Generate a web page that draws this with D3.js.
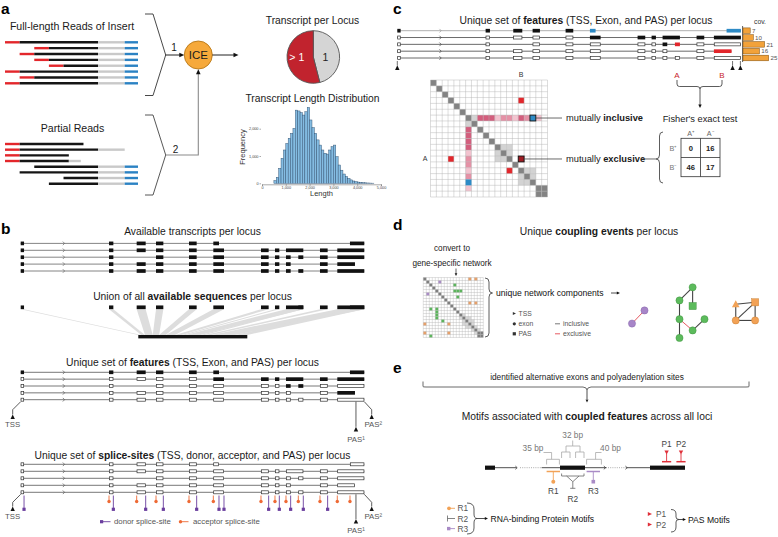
<!DOCTYPE html>
<html><head><meta charset="utf-8">
<script src="https://cdn.jsdelivr.net/npm/d3@7/dist/d3.min.js"></script>
<style>html,body{margin:0;padding:0;background:#fff}svg{display:block}</style>
</head><body>
<svg id="fig" width="778" height="537" font-family="'Liberation Sans', Arial, Helvetica, sans-serif"></svg>
<script>
// ======================= DATA =======================
// Panel a: reads (position along read, 0..100)
const fullReadStarts = [[0,11],[22,33],[11,22],[22,33],[33,44],[0,11],[11,22],[0,11]]; // [5' primer start, insert start]
const insertEnd = 70;
const fullReadTail = [["polyA",70,90],["primer3",90,100]];
const partialReads = [
  [["primer5",0,11],["insert",11,59]],
  [["primer5",0,11],["insert",11,70],["polyA",70,90]],
  [["primer5",0,11],["insert",11,48]],
  [["primer5",0,11],["insert",11,48],["polyA",48,57]],
  [["insert",22,70],["polyA",70,90],["primer3",90,100]],
  [["insert",11,70],["polyA",70,90],["primer3",90,100]],
  [["insert",44,70],["polyA",70,90],["primer3",90,100]],
  [["insert",33,70],["polyA",70,90],["primer3",90,100]]
];
const pieLabels = ["1", "> 1"];
const pieValues = [46, 54];
const histBinStart = 500, histBinWidth = 100;
const histCounts = [100,220,550,915,1220,1460,1650,1830,2010,2680,2650,2590,2500,2620,2780,2320,2040,1830,1590,1400,
                    1220,1100,1070,1220,1340,1400,975,670,480,340,250,180,125,85,60,45,35,25,18,12,8,5];
const histXTicks = [0,1000,2000,3000,4000,5000];
const histYTicks = [0,1000,2000];

// Panel b/c: gene model (schematic genomic units)
const exons = [[62,72],[327,340],[410,437],[468,490],[567,590],[640,657],[640,672],[783,806],[825,838],
               [858,910],[858,872],[895,910],[960,983],[1050,1093],[1012,1093],[1012,1065]];
const transcripts = [
  [0,1,2,3,4,5,13],
  [0,1,2,3,4,6,7,8,9,12,14],
  [0,1,3,4,6,7,8,10,11,12,14],
  [0,1,2,3,4,6,7,8,10,12,15],
  [0,1,2,3,4,6,7,8,10,11,12,14]
];
const strandMark = 192;
const inclusiveExons = [5,13];
const exclusiveExons = [11,15];
const coverage = [7,10,21,16,25];

// Panel c: feature co-occurrence matrix
const cN = 20;
const cLight = [[6,7],[7,6],[11,12],[12,11],[12,13],[13,12],[11,13],[13,11],[15,16],[16,15],[16,17],[17,16],[15,17],[17,15]];
const cDark = [[18,19],[19,18]];
const cPinkRowLevels = [3,3,3,1,2,2,1,3,2,0,1];   // row 6, cols 8..18
const cPinkColLevels = [3,3,3,3,1,2,2,1,2,0,1];   // col 6, rows 8..18
const cBlue = [[6,17],[17,6]];
const cRed = [[3,15],[13,3],[15,13]];
const cDarkRed = [[13,15]];
const fisherCols = ["A\u207A","A\u207B"];
const fisherRows = ["B\u207A","B\u207B"];
const fisherVals = [[0,16],[46,17]];

// Panel d: gene network
const dN = 20;
const dGreen = [[2,10],[4,10],[4,11],[4,12],[6,11],[10,2],[10,4],[11,4],[12,4],[13,4],[14,6],[19,2]];
const dOrange = [[0,15],[0,17],[8,15],[8,17],[15,0],[15,8],[18,0],[18,8]];
const dPurple = [[1,5],[5,1]];
const dLight = [[12,13],[13,12],[13,14],[14,13],[14,15],[15,14],[15,16],[16,15],[16,17],[17,16],[17,18],[18,17],[13,15],[15,13],[14,16],[16,14]];
const netNodes = [
  {id:"p1",gx:2,gy:3.7,shape:"circle",col:"purple"},{id:"p2",gx:0,gy:5.8,shape:"circle",col:"purple"},
  {id:"g1",gx:9.7,gy:0,shape:"circle",col:"green"},{id:"g2",gx:7.6,gy:2.1,shape:"circle",col:"green"},
  {id:"g3",gx:9.7,gy:3,shape:"square",col:"green"},{id:"g4",gx:7.6,gy:5.1,shape:"circle",col:"green"},
  {id:"g5",gx:11.6,gy:5.1,shape:"circle",col:"green"},{id:"g6",gx:9.7,gy:6.9,shape:"circle",col:"green"},
  {id:"g7",gx:7.6,gy:8.1,shape:"circle",col:"green"},
  {id:"o1",gx:16.6,gy:2.7,shape:"triangle",col:"orange"},{id:"o2",gx:19.7,gy:2.4,shape:"square",col:"orange"},
  {id:"o3",gx:16.6,gy:5.3,shape:"circle",col:"orange"},{id:"o4",gx:19.7,gy:5.3,shape:"circle",col:"orange"}
];
const netEdges = [["p1","p2","ex"],["g1","g2","in"],["g1","g3","in"],["g2","g4","in"],["g4","g7","in"],
  ["g4","g6","ex"],["g6","g5","in"],["o1","o2","in"],["o2","o4","in"],["o3","o4","in"],["o1","o3","in"],["o2","o3","in"]];

// Panel e: motif schematic (0..100 along the locus)
const eExons = [[0,5],[37.5,50],[82.5,100]];
const eSolid = [[5,15.8],[28.3,37.5],[50,60.8],[70.8,82.5]];
const eDotted = [[17.5,28.3],[61.5,70.8]];
const eChevrons = [15.8,60,70.8];
const rbpMotifs = [{name:"R1",from:30.8,to:37.5,col:"#F2A256",glyph:"circle"},{name:"R3",from:50.8,to:57.5,col:"#A98BC6",glyph:"square"}];
const r2Span = [38.3,49.5];
const pasMotifs = [{name:"P1",at:90.8},{name:"P2",at:98}];
const bpLabels = ["35 bp","32 bp","40 bp"];

// ======================= DRAWING =======================
const svg = d3.select("#fig");
svg.append("rect").attr("width",778).attr("height",537).attr("fill","#fff");

function addText(g,x,y,parts,o={}){
  const t=g.append("text").attr("x",x).attr("y",y).attr("font-size",o.size||10.3)
    .attr("text-anchor",o.anchor||"middle").attr("fill",o.fill||"#1a1a1a");
  if(o.weight) t.attr("font-weight",o.weight);
  if(o.rotate) t.attr("transform",`rotate(${o.rotate},${x},${y})`);
  (Array.isArray(parts)?parts:[[parts,false]]).forEach(([s,b])=>{
    const ts=t.append("tspan").text(s); if(b) ts.attr("font-weight","bold");});
  return t;
}
function ln(g,x1,y1,x2,y2,c,w,dash){const l=g.append("line").attr("x1",x1).attr("y1",y1).attr("x2",x2).attr("y2",y2)
  .attr("stroke",c||"#333").attr("stroke-width",w||0.8); if(dash) l.attr("stroke-dasharray",dash); return l;}
function pth(g,d,c,w,fill){return g.append("path").attr("d",d).attr("stroke",c||"#333").attr("stroke-width",w||0.8).attr("fill",fill||"none");}
function tri(g,x,y,dir,w,h,fill){
  let p;
  if(dir==="up") p=[[x,y],[x-w/2,y+h],[x+w/2,y+h]];
  else if(dir==="down") p=[[x,y],[x-w/2,y-h],[x+w/2,y-h]];
  else if(dir==="right") p=[[x,y],[x-h,y-w/2],[x-h,y+w/2]];
  else p=[[x,y],[x+h,y-w/2],[x+h,y+w/2]];
  return g.append("polygon").attr("points",p.map(q=>q.join(",")).join(" ")).attr("fill",fill||"#111");
}

// panel letters
[["a",1,13.5],["b",1,234],["c",393,13.5],["d",393,230],["e",393,373]].forEach(([l,x,y])=>
  addText(svg,x,y,l,{size:15.5,weight:"bold",anchor:"start",fill:"#000"}));

// ---------------- Panel a ----------------
const gA = svg.append("g");
const readX = d3.scaleLinear().domain([0,100]).range([5,138]);
const readCol = {primer5:"#E3262B",insert:"#151515",polyA:"#C9C9C9",primer3:"#2B82C3"};
const fullY = d3.scaleLinear().domain([0,fullReadStarts.length-1]).range([42.3,83.3]);
fullReadStarts.forEach((r,i)=>{
  const segs=[["primer5",r[0],r[1]],["insert",r[1],insertEnd],...fullReadTail];
  segs.forEach(s=>ln(gA,readX(s[1]),fullY(i),readX(s[2]),fullY(i),readCol[s[0]],2.4));
});
const partY = d3.scaleLinear().domain([0,partialReads.length-1]).range([144,183.7]);
partialReads.forEach((r,i)=>r.forEach(s=>ln(gA,readX(s[1]),partY(i),readX(s[2]),partY(i),readCol[s[0]],2.4)));
addText(gA,72,29.5,"Full-length Reads of Insert",{size:10.6});
addText(gA,72.5,132,"Partial Reads",{size:10.6});
pth(gA,"M145,14H153L165.7,55L153,95.5H145","#333",0.9);
ln(gA,165.7,55,181,55,"#222",1);
tri(gA,184.3,55,"right",4.6,5,"#111");
addText(gA,174,51,"1",{size:10});
gA.append("circle").attr("cx",198.3).attr("cy",55).attr("r",14).attr("fill","#F6A93B").attr("stroke","#B87818").attr("stroke-width",0.9);
addText(gA,198.3,59.2,"ICE",{size:11.5});
ln(gA,212.3,55,234.5,55,"#222",1);
tri(gA,238.5,55,"right",4.6,5,"#111");
pth(gA,"M145,115H153L165.7,155L153,195H145","#444",0.9);
pth(gA,"M165.7,155H198.3V73","#8a8a8a",1.1);
tri(gA,198.3,69.3,"up",4.6,5,"#111");
addText(gA,175.5,153,"2",{size:10});

// pie
addText(gA,312.5,24,"Transcript per Locus",{size:10.3});
const pie = d3.pie().sort(null).value(d=>d)(pieValues);
const arc = d3.arc().innerRadius(0).outerRadius(26.3);
const gPie = gA.append("g").attr("transform","translate(313.3,57)");
gPie.selectAll("path").data(pie).join("path").attr("d",arc)
  .attr("fill",(d,i)=>i===0?"#D5D5D5":"#C1232E").attr("stroke","#555").attr("stroke-width",0.9);
addText(gPie,12,3.6,pieLabels[0],{size:10.5,fill:"#222"});
addText(gPie,-16.5,3.6,pieLabels[1],{size:10.5,fill:"#fff"});

// histogram
addText(gA,312.5,102,"Transcript Length Distribution",{size:10.3});
const hx = d3.scaleLinear().domain([0,5000]).range([262,381]);
const hy = d3.scaleLinear().domain([0,3000]).range([183.3,101.4]);
const gH = gA.append("g");
gH.selectAll("rect").data(histCounts).join("rect")
  .attr("x",(d,i)=>hx(histBinStart+i*histBinWidth)).attr("width",hx(histBinWidth)-hx(0))
  .attr("y",d=>hy(d)).attr("height",d=>hy(0)-hy(d))
  .attr("fill","#84BCE2").attr("stroke","#2F4F6F").attr("stroke-width",0.45);
const xAx = gH.append("g").attr("transform","translate(0,184.3)")
  .call(d3.axisBottom(hx).tickValues(histXTicks).tickSize(1.5).tickPadding(1));
xAx.attr("font-size",3.8).attr("font-family",null);
xAx.selectAll("text").attr("fill","#444");
xAx.select(".domain").attr("stroke","#555").attr("stroke-width",0.5);
xAx.selectAll(".tick line").attr("stroke","#555").attr("stroke-width",0.5);
const yAx = gH.append("g").attr("transform","translate(261,0)")
  .call(d3.axisLeft(hy).tickValues(histYTicks).tickSize(1.5).tickPadding(1));
yAx.attr("font-size",3.8).attr("font-family",null);
yAx.selectAll("text").attr("fill","#444");
yAx.select(".domain").remove();
yAx.selectAll(".tick line").attr("stroke","#555").attr("stroke-width",0.5);
addText(gH,244.5,147,"Frequency",{size:7.5,rotate:-90,fill:"#333"});
addText(gH,321.5,196,"Length",{size:7.5,fill:"#333"});

// ---------------- gene track helper ----------------
const EH = 3.7;
const firstSeen = {};
transcripts.forEach((t,ti)=>t.forEach(e=>{ if(firstSeen[e]===undefined) firstSeen[e]=ti; }));
function drawTranscript(g,xs,y,ti,styleFn,lineColor){
  const t=transcripts[ti];
  const lc=lineColor||"#555";
  ln(g,xs(exons[t[0]][0]),y,xs(exons[t[t.length-1]][1]),y,lc,0.8);
  const c=xs(strandMark);
  pth(g,`M${c-1.2},${y-1.8}L${c+0.6},${y}L${c-1.2},${y+1.8}`,lc,0.7);
  t.forEach(ei=>{
    const [s,e]=exons[ei]; const st=styleFn(ei,ti);
    const r=g.append("rect");
    if(st.outline){
      r.attr("x",xs(s)+0.35).attr("y",y-EH/2+0.35).attr("width",xs(e)-xs(s)-0.7).attr("height",EH-0.7)
       .attr("fill","#fff").attr("stroke","#333").attr("stroke-width",0.7);
    } else {
      r.attr("x",xs(s)).attr("y",y-EH/2).attr("width",xs(e)-xs(s)).attr("height",EH).attr("fill",st.fill);
    }
  });
}

// ---------------- Panel b ----------------
const gB = svg.append("g");
const gx = d3.scaleLinear().domain([62,1093]).range([20.7,364.3]);
addText(gB,192.5,235,"Available transcripts per locus");
const availY = d3.scaleLinear().domain([0,4]).range([243.4,271]);
transcripts.forEach((t,ti)=>drawTranscript(gB,gx,availY(ti),ti,()=>({fill:"#111"}),"#666"));

addText(gB,192.5,300,[["Union of all ",false],["available sequences",true],[" per locus",false]]);
const unionY = 307.3;
const uniqueSpans = Array.from(new Set(exons.map(e=>e[0]))).map(s=>[s, d3.max(exons.filter(e=>e[0]===s),e=>e[1])]).sort((a,b)=>a[0]-b[0]);
const totalLen = d3.sum(uniqueSpans,d=>d[1]-d[0]);
const barX = d3.scaleLinear().domain([0,totalLen]).range([138.3,247.3]);
let cum=0;
uniqueSpans.forEach(([s,e])=>{
  const a=cum, b=cum+(e-s); cum=b;
  gB.append("polygon").attr("points",[[gx(s),unionY+EH/2],[gx(e),unionY+EH/2],[barX(b),335],[barX(a),335]].map(p=>p.join(",")).join(" "))
    .attr("fill","#DDDDDD");
});
uniqueSpans.forEach(([s,e])=>gB.append("rect").attr("x",gx(s)).attr("y",unionY-EH/2).attr("width",gx(e)-gx(s)).attr("height",EH).attr("fill","#111"));
gB.append("rect").attr("x",barX(0)).attr("y",335).attr("width",barX(totalLen)-barX(0)).attr("height",3.4).attr("fill","#111");

addText(gB,192.5,365.5,[["Unique set of ",false],["features",true],[" (TSS, Exon, and PAS) per locus",false]]);
const featY = d3.scaleLinear().domain([0,4]).range([372.3,399.7]);
transcripts.forEach((t,ti)=>drawTranscript(gB,gx,featY(ti),ti,(ei,ti)=>firstSeen[ei]===ti?{fill:"#111"}:{outline:true},"#555"));

function siteMarkers(g,yBot,tssTri,pas1Tri,pas2Tri,tssLab,pas1Lab,pas2Lab){
  const xT=gx(exons[0][0]), xP2=gx(exons[14][1]), xP1=gx(exons[15][1])+1;
  pth(g,`M${xT},${yBot}L${xT-8},${yBot+8}V${tssTri}`,"#333",0.8);
  tri(g,xT-8,tssTri,"up",4.4,4.6,"#111");
  addText(g,xT-8,tssLab,"TSS",{size:7.8,fill:"#555"});
  ln(g,xP1,yBot,xP1,pas1Tri,"#333",0.8);
  tri(g,xP1,pas1Tri,"up",4.4,4.6,"#111");
  addText(g,xP1,pas1Lab,"PAS\u00B9",{size:7.8,fill:"#555"});
  pth(g,`M${xP2},${yBot}L${xP2+7.4},${yBot+8}V${pas2Tri}`,"#333",0.8);
  tri(g,xP2+7.4,pas2Tri,"up",4.4,4.6,"#111");
  addText(g,xP2+9,pas2Lab,"PAS\u00B2",{size:7.8,fill:"#555"});
}
siteMarkers(gB,401.7,414.5,426.8,414.5,427,442,427);

addText(gB,192.5,459,[["Unique set of ",false],["splice-sites",true],[" (TSS, donor, acceptor, and PAS) per locus",false]]);
const spliceY = d3.scaleLinear().domain([0,4]).range([464.3,492.3]);
transcripts.forEach((t,ti)=>drawTranscript(gB,gx,spliceY(ti),ti,()=>({outline:true}),"#555"));
siteMarkers(gB,494.3,506.5,519,506.5,519,533,519);
// donor / acceptor
const donors = new Set(), acceptors = new Set();
transcripts.forEach(t=>t.forEach((ei,k)=>{ if(k<t.length-1) donors.add(exons[ei][1]); if(k>0) acceptors.add(exons[ei][0]); }));
const donorCol="#6A3E9E", accCol="#EE6A35";
Array.from(donors).forEach(p=>{ ln(gB,gx(p),495.5,gx(p),508,donorCol,0.9);
  gB.append("rect").attr("x",gx(p)-1.6).attr("y",507.7).attr("width",3.2).attr("height",3.2).attr("fill",donorCol);});
Array.from(acceptors).forEach(p=>{ ln(gB,gx(p),495.5,gx(p),500,accCol,0.9);
  gB.append("circle").attr("cx",gx(p)).attr("cy",501.5).attr("r",1.7).attr("fill",accCol);});
gB.append("rect").attr("x",100).attr("y",520.1).attr("width",3.2).attr("height",3.2).attr("fill",donorCol);
ln(gB,103,521.7,110.5,521.7,donorCol,0.9);
addText(gB,114,524.4,"donor splice-site",{size:7.8,anchor:"start",fill:"#555"});
gB.append("circle").attr("cx",180.5).attr("cy",521.7).attr("r",1.7).attr("fill",accCol);
ln(gB,181,521.7,188.5,521.7,accCol,0.9);
addText(gB,193,524.4,"acceptor splice-site",{size:7.8,anchor:"start",fill:"#555"});

// ---------------- Panel c ----------------
const gC = svg.append("g");
const cxs = d3.scaleLinear().domain([62,1093]).range([397.3,740.9]);
addText(gC,586,24,[["Unique set of ",false],["features",true],[" (TSS, Exon, and PAS) per locus",false]]);
const cRowY = d3.scaleLinear().domain([0,4]).range([30.7,58]);
transcripts.forEach((t,ti)=>drawTranscript(gC,cxs,cRowY(ti),ti,(ei,ti)=>{
  if(firstSeen[ei]!==ti) return {outline:true};
  if(inclusiveExons.includes(ei)) return {fill:"#2E8BC6"};
  if(exclusiveExons.includes(ei)) return {fill:"#E2262B"};
  return {fill:"#111"};
}, ti===0?"#9a9a9a":"#444"));
[cxs(exons[0][0]), cxs(exons[15][1])+1, cxs(exons[14][1])-0.5].forEach(x=>{
  ln(gC,x,61,x,65.5,"#333",0.7); tri(gC,x,65.3,"up",4.4,4.8,"#111");});
// coverage bars
const covX = d3.scaleLinear().domain([0,25]).range([743,768.7]);
ln(gC,742.6,26,742.6,62,"#333",0.8);
coverage.forEach((v,i)=>{
  gC.append("rect").attr("x",covX(0)).attr("y",cRowY(i)-2.8).attr("width",covX(v)-covX(0)).attr("height",5.6)
    .attr("fill","#F2A23A").attr("stroke","#7a4a0a").attr("stroke-width",0.5);
  addText(gC,covX(v)+1.8,cRowY(i)+2.2,String(v),{size:6.2,anchor:"start",fill:"#555"});
});
addText(gC,760,23.5,"cov.",{size:6.8,fill:"#333"});

// matrix
const cm = d3.scaleBand().domain(d3.range(cN)).range([0,117]);
const gM = gC.append("g").attr("transform","translate(430.5,80)");
gM.append("rect").attr("width",117).attr("height",117).attr("fill","#fff");
const pinkCol = {1:"#F3C3CF",2:"#E591A6",3:"#D35E7D"};
function cell(g,sc,r,c,fill,stroke){ const q=g.append("rect").attr("x",sc(c)).attr("y",sc(r)).attr("width",sc.bandwidth()).attr("height",sc.bandwidth()).attr("fill",fill);
  if(stroke) q.attr("stroke",stroke).attr("stroke-width",0.9); return q;}
cLight.forEach(([r,c])=>cell(gM,cm,r,c,"#D3D3D3"));
cPinkRowLevels.forEach((l,k)=>{ if(l) cell(gM,cm,6,8+k,pinkCol[l]); });
cPinkColLevels.forEach((l,k)=>{ if(l) cell(gM,cm,8+k,6,pinkCol[l]); });
d3.range(cN).forEach(i=>cell(gM,cm,i,i,"#838383"));
cDark.forEach(([r,c])=>cell(gM,cm,r,c,"#838383"));
cRed.forEach(([r,c])=>cell(gM,cm,r,c,"#E2262B"));
d3.range(cN+1).forEach(i=>{ const p=i*cm.step();
  ln(gM,p,0,p,117,"#B3B3B3",0.45); ln(gM,0,p,117,p,"#B3B3B3",0.45);});
cell(gM,cm,cBlue[1][0],cBlue[1][1],"#2E8BC6");
cell(gM,cm,cBlue[0][0],cBlue[0][1],"#2E8BC6","#111");
cDarkRed.forEach(([r,c])=>cell(gM,cm,r,c,"#9E1B22","#111"));
addText(gM,cm(15)+cm.bandwidth()/2,-3.5,"B",{size:7,fill:"#333"});
addText(gM,-3,cm(13)+cm.bandwidth()/2+2.5,"A",{size:7,anchor:"end",fill:"#333"});
const yInc = 80+cm(6)+cm.bandwidth()/2, yExc = 80+cm(13)+cm.bandwidth()/2;
ln(gC,430.5+cm(18),yInc,562,yInc,"#444",0.8);
ln(gC,430.5+cm(16),yExc,562,yExc,"#444",0.8);
addText(gC,566,yInc+3.3,[["mutually ",false],["inclusive",true]],{size:9.3,anchor:"start"});
addText(gC,566,yExc+3.3,[["mutually ",false],["exclusive",true]],{size:9.3,anchor:"start"});
ln(gC,641,yExc,656,yExc,"#444",0.8);
// Fisher
addText(gC,677,77.5,"A",{size:8,fill:"#C8242B"});
addText(gC,722,77.5,"B",{size:8,fill:"#C8242B"});
pth(gC,"M677,80V84Q677,86.5,679.5,86.5H697Q700,86.5,700,89Q700,86.5,703,86.5H719.5Q722,86.5,722,84V80","#333",0.8);
ln(gC,700,89,700,105,"#333",0.8);
tri(gC,700,108,"down",3.4,3.6,"#111");
addText(gC,700,122,"Fisher's exact test",{size:9.3});
pth(gC,`M663,132Q659.5,132,659.5,136V${yExc-4}Q659.5,${yExc},656,${yExc}Q659.5,${yExc},659.5,${yExc+4}V179Q659.5,183,663,183`,"#333",0.8);
const fx = d3.scaleBand().domain([0,1]).range([681,720]);
const fy = d3.scaleBand().domain([0,1]).range([138.3,176.7]);
gC.append("rect").attr("x",681).attr("y",138.3).attr("width",39).attr("height",38.4).attr("fill","#fff").attr("stroke","#333").attr("stroke-width",0.8);
ln(gC,fx(1),138.3,fx(1),176.7,"#333",0.8); ln(gC,681,fy(1),720,fy(1),"#333",0.8);
fisherCols.forEach((c,i)=>addText(gC,fx(i)+fx.bandwidth()/2,136,c,{size:7.2,fill:"#666"}));
fisherRows.forEach((r,i)=>addText(gC,673,fy(i)+fy.bandwidth()/2+2.6,r,{size:7.2,fill:"#777"}));
fisherVals.forEach((row,i)=>row.forEach((v,j)=>addText(gC,fx(j)+fx.bandwidth()/2,fy(i)+fy.bandwidth()/2+2.7,String(v),{size:7.6,weight:"bold",fill:"#222"})));

// ---------------- Panel d ----------------
const gD = svg.append("g");
addText(gD,599,235,[["Unique ",false],["coupling events",true],[" per locus",false]]);
addText(gD,452,251,"convert to",{size:8.2});
addText(gD,452,266,"gene-specific network",{size:8.2});
ln(gD,456,268.5,456,273.5,"#222",0.7); tri(gD,456,276,"down",2.6,2.8,"#111");
const dm = d3.scaleBand().domain(d3.range(dN)).range([0,60]);
const gDM = gD.append("g").attr("transform","translate(423.3,277.5)");
gDM.append("rect").attr("width",60).attr("height",60).attr("fill","#fff");
dLight.forEach(([r,c])=>cell(gDM,dm,r,c,"#D8D8D8"));
d3.range(dN).forEach(i=>cell(gDM,dm,i,i,"#7E7E7E"));
[[18,19],[19,18]].forEach(([r,c])=>cell(gDM,dm,r,c,"#7E7E7E"));
dGreen.forEach(([r,c])=>cell(gDM,dm,r,c,"#5BB55B"));
dOrange.forEach(([r,c])=>cell(gDM,dm,r,c,"#E8A068"));
dPurple.forEach(([r,c])=>cell(gDM,dm,r,c,"#A98BC6"));
d3.range(dN+1).forEach(i=>{ const p=i*dm.step();
  ln(gDM,p,0,p,60,"#AAAAAA",0.35); ln(gDM,0,p,60,p,"#AAAAAA",0.35);});
pth(gD,"M485,278Q489,278,489,282V289Q489,293,492.5,293Q489,293,489,297V333Q489,337,485,337","#333",0.8);
addText(gD,496,296,"unique network components",{size:8.6,anchor:"start",fill:"#111"});
ln(gD,611,293,617,293,"#222",0.8); tri(gD,620,293,"right",3,3.2,"#111");
// legend
const legG = gD.append("g").attr("fill","#444");
tri(legG,516,313.5,"right",3.2,3.2,"#333"); addText(legG,518.5,316,"TSS",{size:6.8,anchor:"start",fill:"#555"});
legG.append("circle").attr("cx",514.3).attr("cy",323.8).attr("r",1.6).attr("fill","#333"); addText(legG,518.5,326.3,"exon",{size:6.8,anchor:"start",fill:"#555"});
legG.append("rect").attr("x",512.7).attr("y",332.2).attr("width",3.2).attr("height",3.2).attr("fill","#333"); addText(legG,518.5,336.2,"PAS",{size:6.8,anchor:"start",fill:"#555"});
ln(legG,555,323.8,560,323.8,"#555",0.8); addText(legG,563,326.3,"inclusive",{size:6.8,anchor:"start",fill:"#555"});
ln(legG,555,333.8,560,333.8,"#E0303A",0.8); addText(legG,563,336.2,"exclusive",{size:6.8,anchor:"start",fill:"#555"});
// network
const nx = d3.scaleLinear().domain([0,20]).range([632,757]);
const ny = d3.scaleLinear().domain([0,8]).range([287.3,337.3]);
const nodeCol = {purple:["#A785C8","#7E5FA3"],green:["#5CBB5C","#3D8B3D"],orange:["#F2A256","#C27A2E"]};
const nodeById = Object.fromEntries(netNodes.map(n=>[n.id,n]));
netEdges.forEach(([a,b,t])=>{ const A=nodeById[a],B=nodeById[b];
  ln(gD,nx(A.gx),ny(A.gy),nx(B.gx),ny(B.gy),t==="ex"?"#E0303A":"#444",t==="ex"?0.8:1.1);});
netNodes.forEach(n=>{ const [f,s]=nodeCol[n.col]; const x=nx(n.gx), y=ny(n.gy);
  if(n.shape==="circle") gD.append("circle").attr("cx",x).attr("cy",y).attr("r",3.6).attr("fill",f).attr("stroke",s).attr("stroke-width",0.4);
  else if(n.shape==="square") gD.append("rect").attr("x",x-3.6).attr("y",y-3.6).attr("width",7.2).attr("height",7.2).attr("fill",f).attr("stroke",s).attr("stroke-width",0.4);
  else tri(gD,x,y-4,"up",7.6,7,f);
});

// ---------------- Panel e ----------------
const gE = svg.append("g");
addText(gE,587,379.5,"identified alternative exons and polyadenylation sites",{size:8.3});
pth(gE,"M423,381.5V386.5Q423,387,426,387H583Q587,387.5,587,390Q587,387.5,591,387H746Q749,387,749,386.5V381.5","#444",0.8);
ln(gE,587,390,587,399,"#222",0.8); tri(gE,587,402.5,"down",2.8,3,"#111");
addText(gE,587,419.5,[["Motifs associated with ",false],["coupled features",true],[" across all loci",false]]);
const eX = d3.scaleLinear().domain([0,100]).range([485,685]);
const eY = 467.7;
eSolid.forEach(([a,b])=>ln(gE,eX(a),eY,eX(b),eY,"#222",0.8));
eDotted.forEach(([a,b])=>ln(gE,eX(a),eY,eX(b),eY,"#888",0.7,"1,1.2"));
eChevrons.forEach(c=>pth(gE,`M${eX(c)-1.2},${eY-1.6}L${eX(c)+0.6},${eY}L${eX(c)-1.2},${eY+1.6}`,"#222",0.7));
eExons.forEach(([a,b])=>gE.append("rect").attr("x",eX(a)).attr("y",eY-2.1).attr("width",eX(b)-eX(a)).attr("height",4.2).attr("fill","#111"));
// bp trees (gray)
const tg="#A8A8A8";
addText(gE,533,451,bpLabels[0],{size:8.3,fill:"#777"});
addText(gE,572.7,438,bpLabels[1],{size:8.3,fill:"#777"});
addText(gE,610.5,451,bpLabels[2],{size:8.3,fill:"#777"});
pth(gE,`M543.5,452.5H${eX(33.3)}V459.3M${eX(30.8)},464.5V459.3H${eX(37.2)}V464.5`,tg,0.8);
pth(gE,`M572.7,440.5V446H${eX(40.5)}V452M572.7,446H${eX(47.5)}V452M${eX(38.3)},458V452H${eX(42.5)}V458M${eX(45.3)},458V452H${eX(49.5)}V458`,tg,0.8);
pth(gE,`M601.5,452.5H${eX(55.3)}V459.3M${eX(50.8)},464.5V459.3H${eX(58.2)}V464.5`,tg,0.8);
// RBP motifs below
rbpMotifs.forEach(m=>{
  ln(gE,eX(m.from),471.5,eX(m.to),471.5,m.col,1.5);
  const c=(eX(m.from)+eX(m.to))/2;
  ln(gE,c,471.5,c,480,m.col,0.9);
  if(m.glyph==="circle") gE.append("circle").attr("cx",c).attr("cy",481.7).attr("r",2).attr("fill",m.col);
  else gE.append("rect").attr("x",c-1.8).attr("y",479.9).attr("width",3.6).attr("height",3.6).attr("fill",m.col);
  addText(gE,c,494,m.name,{size:8.3,fill:"#444"});
});
const r2a=eX(r2Span[0]), r2b=eX(r2Span[1]), r2c=(r2a+r2b)/2;
pth(gE,`M${r2a},473.5V476H${r2b}V473.5M${r2a+5},476L${r2c},481.7L${r2b-5},476M${r2c},481.7V488.3M${r2c-2.6},488.3H${r2c+2.6}`,"#666",0.8);
addText(gE,r2c,501.5,"R2",{size:8.3,fill:"#444"});
pasMotifs.forEach(m=>{
  const x=eX(m.at);
  ln(gE,x-4.6,461.7,x+4.6,461.7,"#E0303A",1.5);
  ln(gE,x,461.7,x,453.5,"#E0303A",0.9);
  tri(gE,x,454.5,"down",4.4,4,"#E0303A");
  addText(gE,x,447,m.name,{size:8.3,fill:"#444"});
});
// legends
gE.append("circle").attr("cx",449).attr("cy",508.3).attr("r",1.9).attr("fill","#F2A256");
ln(gE,450,508.3,455,508.3,"#F2A256",0.9); addText(gE,457.5,511.3,"R1",{size:8.3,anchor:"start",fill:"#555"});
ln(gE,447.5,515.5,447.5,521.5,"#666",0.8); ln(gE,447.5,518.5,455,518.5,"#666",0.8); addText(gE,457.5,521.5,"R2",{size:8.3,anchor:"start",fill:"#555"});
gE.append("rect").attr("x",447).attr("y",526.9).attr("width",3.4).attr("height",3.4).attr("fill","#A98BC6");
ln(gE,450,528.6,455,528.6,"#A98BC6",0.9); addText(gE,457.5,531.6,"R3",{size:8.3,anchor:"start",fill:"#555"});
pth(gE,"M467,503Q474,503,474,509V514Q474,518.5,477,518.5Q474,518.5,474,523V528Q474,534,467,534","#333",0.8);
ln(gE,477,518.5,485,518.5,"#222",0.8); tri(gE,488,518.5,"right",3,3.2,"#111");
addText(gE,490.5,521.5,"RNA-binding Protein Motifs",{size:8.6,anchor:"start",fill:"#111"});
tri(gE,652,514,"right",4,4.2,"#E0303A"); addText(gE,656,517,"P1",{size:8.3,anchor:"start",fill:"#555"});
tri(gE,652,524.5,"right",4,4.2,"#E0303A"); addText(gE,656,527.5,"P2",{size:8.3,anchor:"start",fill:"#555"});
pth(gE,"M671,509.5Q676,509.5,676,514V517Q676,519.5,679,519.5Q676,519.5,676,522V527Q676,532,671,532","#333",0.8);
ln(gE,679,519.5,683,519.5,"#222",0.8); tri(gE,686,519.5,"right",3,3.2,"#111");
addText(gE,688,522.5,"PAS Motifs",{size:8.6,anchor:"start",fill:"#111"});
</script>
</body></html>
